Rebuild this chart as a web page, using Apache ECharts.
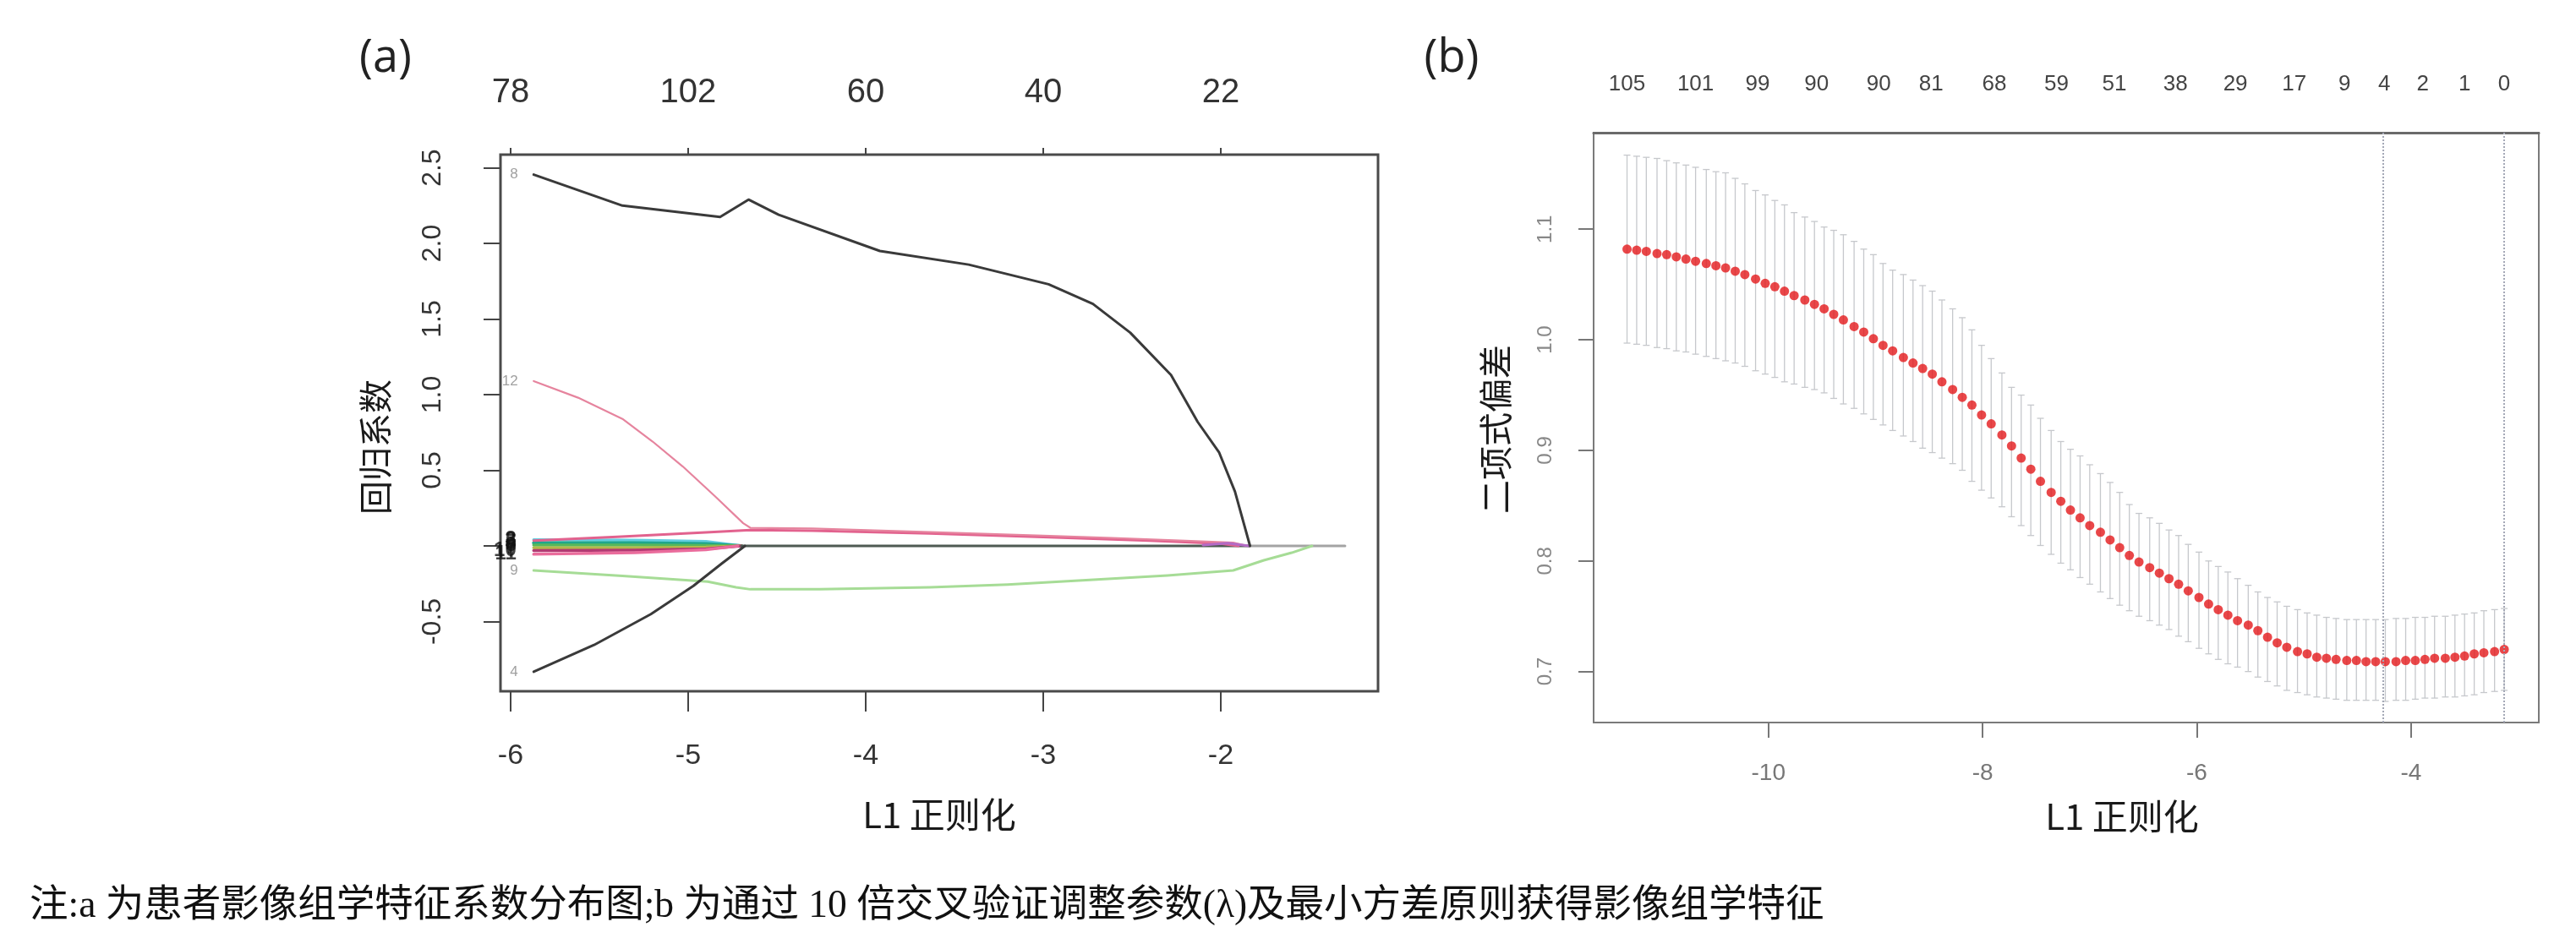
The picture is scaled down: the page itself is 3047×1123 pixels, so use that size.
<!DOCTYPE html>
<html>
<head>
<meta charset="utf-8">
<title>LASSO 系数路径与交叉验证</title>
<script src="https://cdn.jsdelivr.net/npm/echarts@6/dist/echarts.min.js"></script>
<style>
html, body { margin: 0; padding: 0; background: #fff; }
#chart { width: 3047px; height: 1123px; }
</style>
</head>
<body>
<div id="chart"></div>
<script>
// ---------- panel (a): coefficient paths ----------
var aBottomTicks = [-6, -5, -4, -3, -2];
var aTopTickPos = [-6, -5, -4, -3, -2];
var aTopTickLabels = ['78', '102', '60', '40', '22'];
var aYTicks = [-0.5, 0, 0.5, 1.0, 1.5, 2.0, 2.5];

// [log lambda, coefficient]
var pathBlackTop = [[-5.87, 2.455], [-5.37, 2.25], [-4.82, 2.175], [-4.66, 2.29], [-4.49, 2.19], [-3.92, 1.95],
  [-3.42, 1.86], [-2.97, 1.73], [-2.72, 1.60], [-2.51, 1.41], [-2.28, 1.13], [-2.13, 0.82], [-2.01, 0.62],
  [-1.92, 0.36], [-1.835, 0.0]];
var pathPinkBig = [[-5.87, 1.09], [-5.62, 0.98], [-5.37, 0.84], [-5.20, 0.69], [-5.03, 0.525], [-4.85, 0.33],
  [-4.69, 0.15], [-4.65, 0.12], [-4.30, 0.115], [-3.64, 0.092], [-3.00, 0.068], [-2.61, 0.052], [-2.20, 0.034],
  [-1.93, 0.022], [-1.85, 0.0]];
var pathPinkRise = [[-5.87, 0.035], [-5.40, 0.06], [-4.90, 0.09], [-4.65, 0.105], [-4.30, 0.10], [-3.64, 0.082],
  [-3.00, 0.058], [-2.40, 0.035], [-2.00, 0.015], [-1.90, 0.0]];
var pathBlackLow = [[-5.87, -0.832], [-5.53, -0.655], [-5.21, -0.451], [-4.97, -0.264], [-4.81, -0.116], [-4.68, 0.0]];
var pathGreenLow = [[-5.87, -0.162], [-5.37, -0.199], [-4.89, -0.236], [-4.73, -0.274], [-4.65, -0.287], [-4.26, -0.287],
  [-3.64, -0.274], [-3.20, -0.255], [-2.78, -0.227], [-2.30, -0.195], [-1.93, -0.162], [-1.757, -0.095],
  [-1.60, -0.045], [-1.486, 0.0]];
var pathCyan = [[-5.87, 0.04], [-5.30, 0.038], [-4.90, 0.03], [-4.70, 0.0]];
var pathTeal = [[-5.87, 0.02], [-5.30, 0.02], [-4.90, 0.014], [-4.70, 0.0]];
var pathGreen = [[-5.87, 0.005], [-5.30, 0.005], [-4.90, 0.003], [-4.70, 0.0]];
var pathOlive = [[-5.87, -0.012], [-5.30, -0.012], [-4.90, -0.008], [-4.70, 0.0]];
var pathMagenta = [[-5.87, -0.03], [-5.30, -0.028], [-4.90, -0.02], [-4.70, 0.0]];
var pathPinkLow = [[-5.87, -0.055], [-5.30, -0.045], [-4.90, -0.025], [-4.72, 0.0]];
var pathPurple = [[-2.10, 0.006], [-1.96, 0.018], [-1.84, 0.0]];
var pathZeroDark = [[-4.70, 0.0], [-1.84, 0.0]];
var pathZeroGrey = [[-1.84, 0.0], [-1.30, 0.0]];

// ---------- panel (b): cross-validation curve ----------
var lambdaLog = [
  -11.32, -11.23, -11.14, -11.04, -10.95, -10.86, -10.77, -10.68, -10.58, -10.49,
  -10.40, -10.31, -10.22, -10.12, -10.03, -9.94, -9.85, -9.76, -9.66, -9.57,
  -9.48, -9.39, -9.30, -9.20, -9.11, -9.02, -8.93, -8.84, -8.74, -8.65,
  -8.56, -8.47, -8.38, -8.28, -8.19, -8.10, -8.01, -7.92, -7.82, -7.73,
  -7.64, -7.55, -7.46, -7.36, -7.27, -7.18, -7.09, -7.00, -6.90, -6.81,
  -6.72, -6.63, -6.54, -6.44, -6.35, -6.26, -6.17, -6.08, -5.98, -5.89,
  -5.80, -5.71, -5.62, -5.52, -5.43, -5.34, -5.25, -5.16, -5.06, -4.97,
  -4.88, -4.79, -4.70, -4.60, -4.51, -4.42, -4.33, -4.24, -4.14, -4.05,
  -3.96, -3.87, -3.78, -3.68, -3.59, -3.50, -3.41, -3.32, -3.22, -3.13
];
var cvMean = [
  1.082, 1.081, 1.080, 1.078, 1.077, 1.075, 1.073, 1.071, 1.069, 1.067,
  1.065, 1.062, 1.059, 1.055, 1.051, 1.048, 1.044, 1.040, 1.036, 1.032,
  1.028, 1.023, 1.018, 1.012, 1.007, 1.001, 0.995, 0.990, 0.984, 0.979,
  0.974, 0.969, 0.962, 0.955, 0.948, 0.941, 0.932, 0.924, 0.914, 0.904,
  0.893, 0.883, 0.872, 0.862, 0.854, 0.846, 0.839, 0.832, 0.826, 0.819,
  0.812, 0.805, 0.799, 0.794, 0.789, 0.784, 0.779, 0.773, 0.767, 0.761,
  0.756, 0.751, 0.746, 0.742, 0.737, 0.731, 0.726, 0.722, 0.718, 0.716,
  0.713, 0.712, 0.711, 0.710, 0.710, 0.709, 0.709, 0.709, 0.709, 0.710,
  0.710, 0.711, 0.712, 0.712, 0.713, 0.714, 0.716, 0.717, 0.718, 0.720
];
var cvUpper = [
  1.167, 1.166, 1.165, 1.164, 1.162, 1.160, 1.158, 1.156, 1.154, 1.152,
  1.151, 1.146, 1.141, 1.135, 1.131, 1.126, 1.122, 1.115, 1.111, 1.107,
  1.102, 1.099, 1.095, 1.089, 1.082, 1.077, 1.069, 1.063, 1.059, 1.054,
  1.049, 1.044, 1.036, 1.028, 1.020, 1.009, 0.995, 0.983, 0.970, 0.957,
  0.950, 0.941, 0.929, 0.918, 0.908, 0.901, 0.895, 0.887, 0.879, 0.871,
  0.862, 0.851, 0.843, 0.839, 0.834, 0.828, 0.823, 0.815, 0.808, 0.800,
  0.795, 0.790, 0.784, 0.778, 0.772, 0.767, 0.763, 0.759, 0.756, 0.753,
  0.751, 0.749, 0.748, 0.747, 0.747, 0.747, 0.747, 0.747, 0.748, 0.748,
  0.749, 0.749, 0.750, 0.750, 0.751, 0.752, 0.753, 0.755, 0.756, 0.757
];
var cvLower = [
  0.997, 0.996, 0.995, 0.993, 0.992, 0.990, 0.989, 0.987, 0.985, 0.983,
  0.981, 0.979, 0.976, 0.972, 0.969, 0.966, 0.962, 0.960, 0.957, 0.955,
  0.952, 0.947, 0.942, 0.938, 0.933, 0.928, 0.923, 0.918, 0.913, 0.908,
  0.902, 0.898, 0.893, 0.888, 0.882, 0.872, 0.864, 0.857, 0.849, 0.840,
  0.832, 0.823, 0.814, 0.806, 0.798, 0.792, 0.785, 0.779, 0.772, 0.766,
  0.760, 0.755, 0.750, 0.746, 0.742, 0.738, 0.732, 0.727, 0.721, 0.716,
  0.711, 0.707, 0.704, 0.700, 0.695, 0.691, 0.687, 0.683, 0.681, 0.679,
  0.677, 0.676, 0.675, 0.674, 0.674, 0.674, 0.674, 0.673, 0.674, 0.674,
  0.675, 0.676, 0.676, 0.677, 0.677, 0.678, 0.679, 0.681, 0.682, 0.683
];
var lambdaLines = [-4.26, -3.13];
var bBottomTicks = [-10, -8, -6, -4];
var bYTicks = [0.7, 0.8, 0.9, 1.0, 1.1];
var bTopPos = [-11.32, -10.68, -10.10, -9.55, -8.97, -8.48, -7.89, -7.31, -6.77, -6.20, -5.64, -5.09, -4.62, -4.25, -3.89, -3.50, -3.13];
var bTopLabels = ['105', '101', '99', '90', '90', '81', '68', '59', '51', '38', '29', '17', '9', '4', '2', '1', '0'];

var caption = '注:a 为患者影像组学特征系数分布图;b 为通过 10 倍交叉验证调整参数(λ)及最小方差原则获得影像组学特征';

// ---------- build ----------
var LATIN = "'Liberation Sans', Arial, sans-serif";
var CJK = "'Noto Sans CJK SC', 'Liberation Sans', sans-serif";
var CAPTION_FONT = "'Liberation Serif', 'Noto Sans CJK SC', serif";

function lookupLabel(pos, labels) {
  return function (v) {
    for (var i = 0; i < pos.length; i++) {
      if (Math.abs(pos[i] - v) < 1e-6) return labels[i];
    }
    return '';
  };
}

// draw order: faint bundle first, dark paths last
var aLines = [
  { data: pathCyan, color: '#62cde0', width: 3.5, tag: '3', dark: true },
  { data: pathTeal, color: '#1fa68c', width: 4, tag: '5', dark: true },
  { data: pathGreen, color: '#58b85a', width: 3.5, tag: '6', dark: true },
  { data: pathOlive, color: '#b3b84c', width: 3.5, tag: '7', dark: true },
  { data: pathMagenta, color: '#b23a72', width: 3.5, tag: '10', dark: true },
  { data: pathPinkLow, color: '#ea6c9c', width: 3.5, tag: '11', dark: true },
  { data: pathZeroGrey, color: '#a4a4a4', width: 3 },
  { data: pathZeroDark, color: '#4e5a52', width: 3 },
  { data: pathGreenLow, color: '#a6dc96', width: 3, tag: '9' },
  { data: pathPinkRise, color: '#e2628e', width: 3, tag: '2', dark: true },
  { data: pathPinkBig, color: '#e6849e', width: 2.2, tag: '12' },
  { data: pathPurple, color: '#b36bc6', width: 3 },
  { data: pathBlackLow, color: '#3a3a3a', width: 3, tag: '4' },
  { data: pathBlackTop, color: '#3a3a3a', width: 3, tag: '8' }
];

var series = aLines.map(function (d) {
  return {
    type: 'line', xAxisIndex: 0, yAxisIndex: 0, data: d.data,
    showSymbol: false, symbol: 'none', smooth: false, silent: true,
    lineStyle: { color: d.color, width: d.width, cap: 'round', join: 'round' }
  };
});

// variable numbers written at the start of each path (as R's label = TRUE)
var tagged = aLines.filter(function (d) { return d.tag; });
series.push({
  type: 'scatter', xAxisIndex: 0, yAxisIndex: 0, z: 5, silent: true,
  symbol: 'circle', symbolSize: 1, itemStyle: { color: 'rgba(0,0,0,0)' },
  data: tagged.map(function (d) {
    return {
      value: d.data[0],
      label: {
        show: true, position: 'left', distance: d.dark ? 20 : 18, formatter: d.tag,
        fontSize: d.dark ? 24 : 17, fontFamily: LATIN,
        color: d.dark ? '#111' : '#888', fontWeight: d.dark ? 'bold' : 'normal'
      }
    };
  })
});

series.push({
  type: 'custom', xAxisIndex: 2, yAxisIndex: 1, z: 2, silent: true,
  data: lambdaLog.map(function (x, i) { return [x, cvUpper[i], cvLower[i]]; }),
  encode: { x: 0, y: [1, 2] },
  renderItem: function (params, api) {
    var x = api.value(0);
    var top = api.coord([x, api.value(1)]);
    var bot = api.coord([x, api.value(2)]);
    var cap = 4;
    var st = { stroke: '#c6c8cc', lineWidth: 1.3 };
    return {
      type: 'group', children: [
        { type: 'line', shape: { x1: top[0], y1: top[1], x2: bot[0], y2: bot[1] }, style: st },
        { type: 'line', shape: { x1: top[0] - cap, y1: top[1], x2: top[0] + cap, y2: top[1] }, style: st },
        { type: 'line', shape: { x1: bot[0] - cap, y1: bot[1], x2: bot[0] + cap, y2: bot[1] }, style: st }
      ]
    };
  }
});

series.push({
  type: 'scatter', xAxisIndex: 2, yAxisIndex: 1, z: 4, silent: true,
  symbol: 'circle', symbolSize: 11,
  itemStyle: { color: '#e3191c' },
  data: lambdaLog.map(function (x, i) { return [x, cvMean[i]]; }),
  markLine: {
    silent: true, symbol: 'none', label: { show: false },
    lineStyle: { color: '#a4a8b6', width: 2, type: 'dotted' },
    data: lambdaLines.map(function (v) { return { xAxis: v }; })
  }
});

var option = {
  animation: false,
  backgroundColor: '#ffffff',
  grid: [
    { left: 592, top: 183, width: 1038, height: 635, show: true, borderColor: '#4a4a4a', borderWidth: 3 },
    { left: 1885, top: 157, width: 1118, height: 698, show: true, borderColor: '#7a7a7a', borderWidth: 2 }
  ],
  xAxis: [
    {
      gridIndex: 0, type: 'value', position: 'bottom', min: -6.057, max: -1.114,
      axisLine: { show: false, onZero: false }, splitLine: { show: false },
      axisTick: { show: true, length: 24, customValues: aBottomTicks, lineStyle: { color: '#444', width: 2 } },
      axisLabel: { customValues: aBottomTicks, margin: 60, fontSize: 34, color: '#333', fontFamily: LATIN }
    },
    {
      gridIndex: 0, type: 'value', position: 'top', min: -6.057, max: -1.114,
      axisLine: { show: false, onZero: false }, splitLine: { show: false },
      axisTick: { show: true, length: 8, customValues: aTopTickPos, lineStyle: { color: '#444', width: 2 } },
      axisLabel: {
        customValues: aTopTickPos, margin: 53, fontSize: 40, color: '#333', fontFamily: LATIN,
        formatter: lookupLabel(aTopTickPos, aTopTickLabels)
      }
    },
    {
      gridIndex: 1, type: 'value', position: 'bottom', min: -11.632, max: -2.807,
      axisLine: { show: false, onZero: false }, splitLine: { show: false },
      axisTick: { show: true, length: 18, customValues: bBottomTicks, lineStyle: { color: '#777', width: 2 } },
      axisLabel: { customValues: bBottomTicks, margin: 46, fontSize: 28, color: '#777', fontFamily: LATIN }
    },
    {
      gridIndex: 1, type: 'value', position: 'top', min: -11.632, max: -2.807,
      axisLine: { show: true, onZero: false, lineStyle: { color: '#6a6a6a', width: 3 } }, splitLine: { show: false },
      axisTick: { show: false },
      axisLabel: {
        customValues: bTopPos, margin: 44, fontSize: 26, color: '#444', fontFamily: LATIN,
        formatter: lookupLabel(bTopPos, bTopLabels)
      }
    }
  ],
  yAxis: [
    {
      gridIndex: 0, type: 'value', min: -0.961, max: 2.587,
      axisLine: { show: false, onZero: false }, splitLine: { show: false },
      axisTick: { show: true, length: 20, customValues: aYTicks, lineStyle: { color: '#444', width: 2 } },
      axisLabel: {
        customValues: aYTicks, rotate: 90, margin: 64, fontSize: 32, color: '#333', fontFamily: LATIN,
        formatter: function (v) { return Math.abs(v) < 1e-9 ? '' : v.toFixed(1); }
      }
    },
    {
      gridIndex: 1, type: 'value', min: 0.6539, max: 1.1873,
      axisLine: { show: false, onZero: false }, splitLine: { show: false },
      axisTick: { show: true, length: 18, customValues: bYTicks, lineStyle: { color: '#777', width: 2 } },
      axisLabel: {
        customValues: bYTicks, rotate: 90, margin: 45, fontSize: 24, color: '#888', fontFamily: LATIN,
        formatter: function (v) { return v.toFixed(1); }
      }
    }
  ],
  graphic: [
    { type: 'text', x: 456, y: 70, style: { text: '(a)', font: "54px 'Open Sans', sans-serif", fill: '#222', align: 'center', verticalAlign: 'middle' } },
    { type: 'text', x: 1717, y: 70, style: { text: '(b)', font: "54px 'Open Sans', sans-serif", fill: '#222', align: 'center', verticalAlign: 'middle' } },
    { type: 'text', x: 1111, y: 964, style: { text: 'L1 正则化', font: '42px ' + CJK, fill: '#1a1a1a', align: 'center', verticalAlign: 'middle' } },
    { type: 'text', x: 2510, y: 966, style: { text: 'L1 正则化', font: '42px ' + CJK, fill: '#1a1a1a', align: 'center', verticalAlign: 'middle' } },
    { type: 'text', x: 444, y: 529, rotation: Math.PI / 2, style: { text: '回归系数', font: '40px ' + CJK, fill: '#1a1a1a', align: 'center', verticalAlign: 'middle' } },
    { type: 'text', x: 1769, y: 508, rotation: Math.PI / 2, style: { text: '二项式偏差', font: '40px ' + CJK, fill: '#1a1a1a', align: 'center', verticalAlign: 'middle' } },
    { type: 'text', x: 35, y: 1073, style: { text: caption, font: '45.5px ' + CAPTION_FONT, fill: '#111', align: 'left', verticalAlign: 'middle' } }
  ],
  series: series
};

var chart = echarts.init(document.getElementById('chart'), null, { renderer: 'canvas' });
chart.setOption(option);
</script>
</body>
</html>
